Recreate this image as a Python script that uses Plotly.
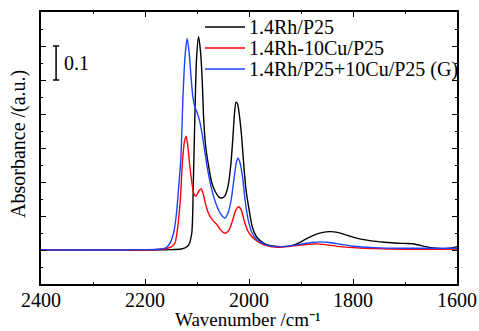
import plotly.graph_objects as go

# ---- data ----
wn_black = [2400, 2300, 2200, 2150, 2130, 2123, 2116, 2110, 2107, 2104, 2101, 2097, 2093, 2090, 2087,
            2083, 2078, 2072, 2065, 2057, 2052, 2046, 2040, 2035, 2031, 2028, 2025, 2022, 2018, 2014,
            2010, 2006, 2000, 1994, 1986, 1978, 1968, 1955, 1935, 1920, 1905, 1890, 1875, 1860, 1845,
            1830, 1815, 1800, 1785, 1765, 1740, 1715, 1695, 1680, 1660, 1640, 1627, 1615, 1600]
abs_black = [0, 0, 0, 0.001, 0.003, 0.006, 0.015, 0.05, 0.2, 0.4, 0.56, 0.627, 0.58, 0.5, 0.38,
             0.3, 0.25, 0.2, 0.172, 0.155, 0.153, 0.16, 0.19, 0.25, 0.33, 0.4, 0.435, 0.43, 0.39, 0.33,
             0.25, 0.18, 0.12, 0.07, 0.04, 0.027, 0.017, 0.012, 0.01, 0.012, 0.02, 0.033, 0.044, 0.051, 0.054,
             0.052, 0.045, 0.038, 0.032, 0.027, 0.023, 0.02, 0.019, 0.017, 0.01, 0.005, 0.003, 0.005, 0.01]

wn_red = [2400, 2200, 2170, 2155, 2147, 2142, 2137, 2132, 2128, 2124, 2121, 2118, 2114, 2110, 2106,
          2102, 2097, 2092, 2088, 2084, 2078, 2070, 2062, 2055, 2049, 2044, 2038, 2032, 2026, 2020,
          2015, 2009, 2003, 1996, 1988, 1978, 1965, 1945, 1925, 1905, 1885, 1870, 1850, 1825, 1800,
          1760, 1700, 1650, 1600]
abs_red = [0, 0, 0.002, 0.006, 0.012, 0.022, 0.068, 0.15, 0.26, 0.32, 0.335, 0.31, 0.25, 0.2, 0.165,
           0.158, 0.172, 0.18, 0.165, 0.138, 0.108, 0.088, 0.075, 0.06, 0.051, 0.05, 0.06, 0.085, 0.115, 0.127,
           0.118, 0.085, 0.058, 0.042, 0.03, 0.02, 0.012, 0.008, 0.01, 0.014, 0.017, 0.018, 0.015, 0.01, 0.007,
           0.004, 0.002, 0.002, 0.003]

wn_blue = [2400, 2250, 2200, 2175, 2160, 2152, 2145, 2140, 2136, 2131, 2127, 2123, 2119, 2115, 2112,
           2108, 2104, 2100, 2095, 2090, 2085, 2080, 2072, 2062, 2054, 2046, 2040, 2034, 2028, 2024,
           2021, 2017, 2012, 2007, 2001, 1994, 1985, 1975, 1960, 1940, 1920, 1900, 1880, 1862, 1845,
           1825, 1800, 1760, 1700, 1650, 1600]
abs_blue = [0, 0, 0.001, 0.002, 0.006, 0.02, 0.05, 0.1, 0.17, 0.27, 0.45, 0.57, 0.622, 0.58, 0.52,
            0.45, 0.42, 0.405, 0.38, 0.34, 0.29, 0.24, 0.18, 0.13, 0.105, 0.094, 0.11, 0.15, 0.22, 0.26,
            0.27, 0.255, 0.21, 0.14, 0.085, 0.05, 0.03, 0.02, 0.012, 0.01, 0.012, 0.017, 0.022, 0.024, 0.022,
            0.017, 0.011, 0.007, 0.005, 0.005, 0.005]

series_names = ["1.4Rh/P25", "1.4Rh-10Cu/P25", "1.4Rh/P25+10Cu/P25 (G)"]
series_colors = ["#000000", "#ff0000", "#1a44ff"]

x_ticks = [2400, 2200, 2000, 1800, 1600]
scale_bar_x = 2371
scale_bar_y = (0.5, 0.6)
scale_bar_label = "0.1"

FONT = "Liberation Serif"
FS = 20

# plot-area geometry in pixels (for paper-coordinate decorations)
W, H = 479, 331
L, R, T, B = 41, 22, 12, 47
PW, PH = W - L - R, H - T - B


def px_x(p):
    return (p - L) / PW


def px_y(p):
    return (H - B - p) / PH


fig = go.Figure()
for wn, ab, name, col in zip([wn_black, wn_red, wn_blue], [abs_black, abs_red, abs_blue],
                             series_names, series_colors):
    fig.add_trace(go.Scatter(x=wn, y=ab, mode="lines", name=name, showlegend=False,
                             line=dict(color=col, width=1.4, shape="spline", smoothing=0.6)))

# legend drawn manually (line samples + labels)
legend_rows_px = [27, 48, 69]
for name, col, ry in zip(series_names, series_colors, legend_rows_px):
    fig.add_shape(type="line", xref="paper", yref="paper",
                  x0=px_x(205), x1=px_x(245), y0=px_y(ry), y1=px_y(ry),
                  line=dict(color=col, width=1.5))
    fig.add_annotation(xref="paper", yref="paper", x=px_x(247), y=px_y(ry), text=name,
                       showarrow=False, xanchor="left", yanchor="middle",
                       font=dict(family=FONT, size=FS, color="black"))

# scale bar
fig.add_shape(type="line", x0=scale_bar_x, x1=scale_bar_x, y0=scale_bar_y[0], y1=scale_bar_y[1],
              xref="x", yref="y", line=dict(color="black", width=1.5))
for yy in scale_bar_y:
    fig.add_shape(type="line", x0=scale_bar_x + 6, x1=scale_bar_x - 6, y0=yy, y1=yy,
                  xref="x", yref="y", line=dict(color="black", width=1.5))
fig.add_annotation(x=scale_bar_x - 12, y=sum(scale_bar_y) / 2, text=scale_bar_label, showarrow=False,
                   xanchor="left", yanchor="middle", font=dict(family=FONT, size=FS, color="black"))

# axis titles as annotations for exact placement
fig.add_annotation(xref="paper", yref="paper", x=px_x(248), y=px_y(331), text="Wavenumber /cm⁻¹",
                   showarrow=False, xanchor="center", yanchor="bottom", borderpad=0,
                   font=dict(family=FONT, size=19, color="black"))
fig.add_annotation(xref="paper", yref="paper", x=px_x(18), y=px_y(144), text="Absorbance /(a.u.)",
                   showarrow=False, xanchor="center", yanchor="middle", textangle=-90,
                   font=dict(family=FONT, size=FS, color="black"))

axis_common = dict(showline=True, linecolor="black", linewidth=1.5, mirror="allticks",
                   ticks="inside", tickcolor="black", showgrid=False, zeroline=False, automargin=False)

fig.update_layout(
    width=W, height=H,
    margin=dict(l=L, r=R, t=T, b=B),
    paper_bgcolor="white", plot_bgcolor="white",
    font=dict(family=FONT, size=FS, color="black"),
    xaxis=dict(range=[2400, 1600], tickvals=x_ticks, ticklen=5, tickwidth=1.2,
               minor=dict(dtick=100, ticklen=2, ticks="inside", tickcolor="black"),
               tickfont=dict(family=FONT, size=FS), ticklabelstandoff=-3,
               **axis_common),
    yaxis=dict(range=[-0.1, 0.7], dtick=0.1, tick0=0, ticklen=5, tickwidth=1.2, showticklabels=False,
               minor=dict(dtick=0.05, ticklen=2, ticks="inside", tickcolor="black"),
               **axis_common),
    showlegend=False,
)

fig.write_html("out.html")
